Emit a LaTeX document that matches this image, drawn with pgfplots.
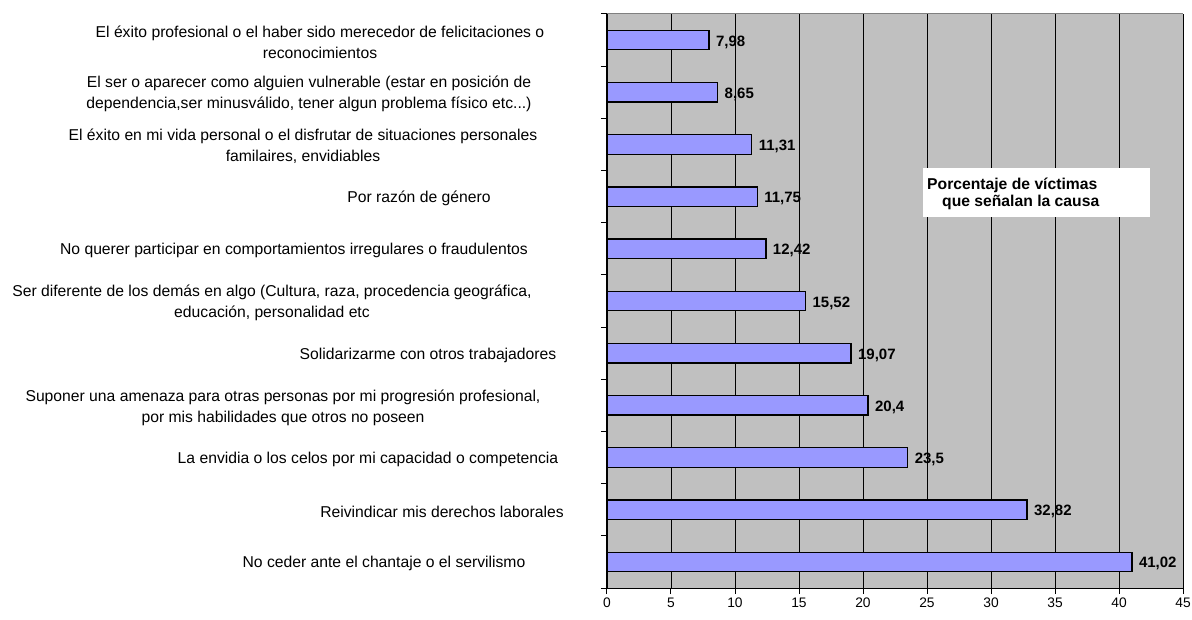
\documentclass[border=0pt]{standalone}
\usepackage{fontspec}
\setmainfont{Liberation Sans}
\usepackage{pgfplots}
\pgfplotsset{compat=1.18}
\definecolor{plotbg}{RGB}{192,192,192}
\definecolor{barfill}{RGB}{153,153,255}
\definecolor{frame}{RGB}{128,128,128}

\begin{document}
\begin{tikzpicture}[x=1pt,y=1pt,
  lab/.style={font=\fontsize{15.7}{21}\selectfont, align=center, inner sep=0pt, yshift=-2pt}]
\useasboundingbox (0,0) rectangle (1192,619);
\begin{axis}[
  at={(607pt,31pt)}, anchor=south west,
  scale only axis, width=576pt, height=574pt,
  xmin=0, xmax=45, ymin=-0.5, ymax=10.5,
  xtick={0,5,...,45},
  ytick={-0.5,0.5,...,10.5}, yticklabel={\relax},
  axis x line*=bottom, axis y line*=left,
  axis line style={black, line width=1pt},
  tick align=outside, major tick length=6pt,
  tick style={black, line width=1pt},
  xmajorgrids, grid style={black, line width=0.9pt},
  axis background/.style={fill=plotbg},
  ticklabel style={font=\fontsize{13.8}{15}\selectfont},
  /pgf/number format/assume math mode=true,
  clip=false,
  xbar, bar width=19.5pt, bar shift=0pt,
  point meta=explicit symbolic,
  nodes near coords,
  nodes near coords style={font=\fontsize{15}{17}\bfseries\selectfont, anchor=west, xshift=3pt, yshift=-2pt},
]
\addplot[fill=barfill, draw=black, line width=1.3pt] coordinates {
  (41.02,0) [41,02]
  (32.82,1) [32,82]
  (23.5,2) [23,5]
  (20.4,3) [20,4]
  (19.07,4) [19,07]
  (15.52,5) [15,52]
  (12.42,6) [12,42]
  (11.75,7) [11,75]
  (11.31,8) [11,31]
  (8.65,9) [8,65]
  (7.98,10) [7,98]
};
\draw[frame, line width=1pt] (rel axis cs:0,1) -- (rel axis cs:1,1);

% category labels
\node[lab, xshift=-287pt] at (axis cs:0,10) {El éxito profesional o el haber sido merecedor de felicitaciones o\\reconocimientos};
\node[lab, xshift=-298pt] at (axis cs:0,9) {El ser o aparecer como alguien vulnerable (estar en posición de\\dependencia,ser minusválido, tener algun problema físico etc...)};
\node[lab, xshift=-304pt] at (axis cs:0,8) {El éxito en mi vida personal o el disfrutar de situaciones personales\\familaires, envidiables};
\node[lab, xshift=-188pt] at (axis cs:0,7) {Por razón de género};
\node[lab, xshift=-313pt] at (axis cs:0,6) {No querer participar en comportamientos irregulares o fraudulentos};
\node[lab, xshift=-335pt] at (axis cs:0,5) {Ser diferente de los demás en algo (Cultura, raza, procedencia geográfica,\\educación, personalidad etc};
\node[lab, xshift=-179pt] at (axis cs:0,4) {Solidarizarme con otros trabajadores};
\node[lab, xshift=-324pt] at (axis cs:0,3) {Suponer una amenaza para otras personas por mi progresión profesional,\\por mis habilidades que otros no poseen};
\node[lab, xshift=-239pt] at (axis cs:0,2) {La envidia o los celos por mi capacidad o competencia};
\node[lab, xshift=-165pt] at (axis cs:0,1) {Reivindicar mis derechos laborales};
\node[lab, xshift=-223pt] at (axis cs:0,0) {No ceder ante el chantaje o el servilismo};

% text box
\node[fill=white, minimum width=227pt, minimum height=49pt, anchor=north west, inner sep=0pt] at (axis cs:24.69,7.55) {};
\node[anchor=west, inner sep=0pt, font=\fontsize{15.7}{17}\bfseries\selectfont] at (axis cs:25.0,7.22) {Porcentaje de víctimas};
\node[anchor=west, inner sep=0pt, font=\fontsize{15.7}{17}\bfseries\selectfont] at (axis cs:26.17,6.88) {que señalan la causa};
\end{axis}
\end{tikzpicture}
\end{document}
